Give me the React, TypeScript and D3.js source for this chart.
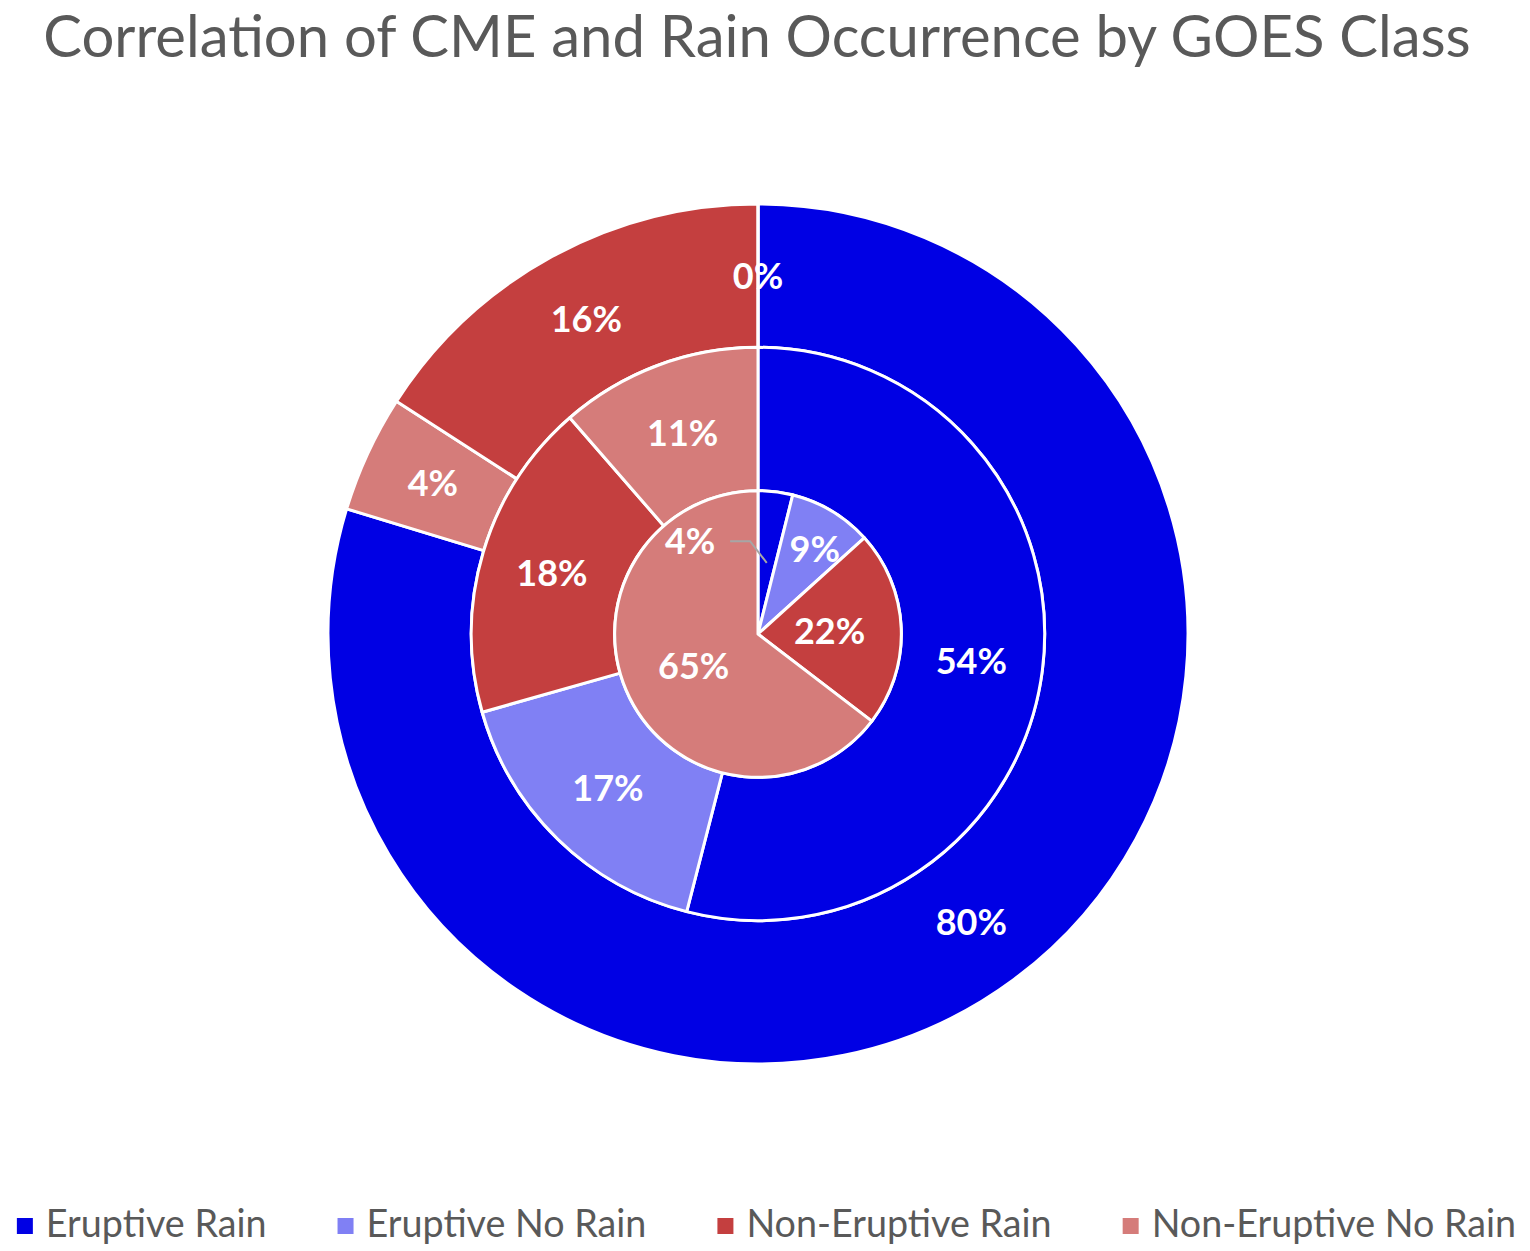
import React, { useEffect, useRef } from "react";
import * as d3 from "d3";

const categories = ["Eruptive Rain", "Eruptive No Rain", "Non-Eruptive Rain", "Non-Eruptive No Rain"];
const categoryColors = ["#0000E4", "#8080F4", "#C43F3F", "#D57C7A"];

// outer ring (drawn clockwise from 12 o'clock)
const outerOrder = ["Eruptive Rain", "Non-Eruptive No Rain", "Non-Eruptive Rain", "Eruptive No Rain"];
const outerValues = [79.7, 4.4, 15.9, 0];
// middle ring
const middleOrder = ["Eruptive Rain", "Eruptive No Rain", "Non-Eruptive Rain", "Non-Eruptive No Rain"];
const middleValues = [54.0, 16.6, 18.0, 11.4];
// inner pie
const innerOrder = ["Eruptive Rain", "Eruptive No Rain", "Non-Eruptive Rain", "Non-Eruptive No Rain"];
const innerValues = [3.9, 9.4, 22.1, 64.6];

const title = "Correlation of CME and Rain Occurrence by GOES Class";

export default function App() {
  const ref = useRef<SVGSVGElement>(null);

  useEffect(() => {
    const svg = d3.select(ref.current);
    svg.selectAll("*").remove();
    const cx = 758, cy = 634, R = 430;
    const ringW = R / 3;
    const font = "Lato, 'Open Sans', sans-serif";
    const color = d3.scaleOrdinal<string, string>().domain(categories).range(categoryColors);

    svg.append("rect").attr("width", 1530).attr("height", 1251).attr("fill", "#fff");

    svg.append("text")
      .attr("x", 757).attr("y", 57)
      .attr("text-anchor", "middle")
      .attr("font-family", font).attr("font-size", 58)
      .attr("fill", "#595959")
      .text(title);

    const g = svg.append("g").attr("transform", `translate(${cx},${cy})`);
    const pie = d3.pie<number>().sort(null).value((d) => d);

    const rings = [
      { key: "outer", order: outerOrder, values: outerValues, r0: 2 * ringW, r1: R },
      { key: "middle", order: middleOrder, values: middleValues, r0: ringW, r1: 2 * ringW },
      { key: "inner", order: innerOrder, values: innerValues, r0: 0, r1: ringW },
    ];

    rings.forEach((ring) => {
      const arcs = pie(ring.values);
      const arc = d3.arc<d3.PieArcDatum<number>>().innerRadius(ring.r0).outerRadius(ring.r1);
      g.append("g").selectAll("path").data(arcs).join("path")
        .attr("d", arc as any)
        .attr("fill", (d, i) => color(ring.order[i]))
        .attr("stroke", "#fff").attr("stroke-width", 3).attr("stroke-linejoin", "round");
    });

    // labels
    rings.forEach((ring) => {
      const arcs = pie(ring.values);
      arcs.forEach((d, i) => {
        const mid = (d.startAngle + d.endAngle) / 2;
        let r = (ring.r0 + ring.r1) / 2;
        let x = Math.sin(mid) * r;
        let y = -Math.cos(mid) * r;
        if (ring.key === "inner" && i === 1) {
          r = 102;
          const a = mid + 0.05;
          x = Math.sin(a) * r; y = -Math.cos(a) * r;
        }
        if (ring.key === "inner" && i === 0) {
          // callout label with leader line
          const la = -36.2 * Math.PI / 180;
          const lr = 115;
          x = Math.sin(la) * lr; y = -Math.cos(la) * lr;
          const cxp = Math.sin(mid) * (ring.r1 / 2);
          const cyp = -Math.cos(mid) * (ring.r1 / 2);
          const startX = x + 40, elbowX = x + 60;
          g.append("path")
            .attr("d", `M${startX},${y}L${elbowX},${y}L${cxp},${cyp}`)
            .attr("fill", "none").attr("stroke", "#A6A6A6").attr("stroke-width", 2);
        }
        g.append("text")
          .attr("x", x).attr("y", y)
          .attr("dy", "0.36em")
          .attr("text-anchor", "middle")
          .attr("font-family", font).attr("font-weight", 700).attr("font-size", 36)
          .attr("fill", "#fff")
          .text(`${Math.round(ring.values[i])}%`);
      });
    });

    // legend
    const legendFont = 37.7;
    const sq = 16, sqGap = 13, itemGap = 71, lBase = 1237, lCenter = 1226;
    const lg = svg.append("g");
    const items = categories.map((c) => {
      const t = lg.append("text")
        .attr("font-family", font).attr("font-size", legendFont)
        .attr("fill", "#595959").attr("y", lBase)
        .text(c);
      const w = (t.node() as SVGTextElement).getComputedTextLength();
      return { c, t, w };
    });
    const total = items.reduce((s, it) => s + sq + sqGap + it.w, 0) + itemGap * (items.length - 1);
    let x = 766.5 - total / 2;
    items.forEach((it) => {
      lg.append("rect").attr("x", x).attr("y", lCenter - sq / 2).attr("width", sq).attr("height", sq).attr("fill", color(it.c));
      it.t.attr("x", x + sq + sqGap);
      x += sq + sqGap + it.w + itemGap;
    });
  }, []);

  return (
    <svg ref={ref} width={1530} height={1251} style={{ position: "absolute", left: 0, top: 0 }} />
  );
}
